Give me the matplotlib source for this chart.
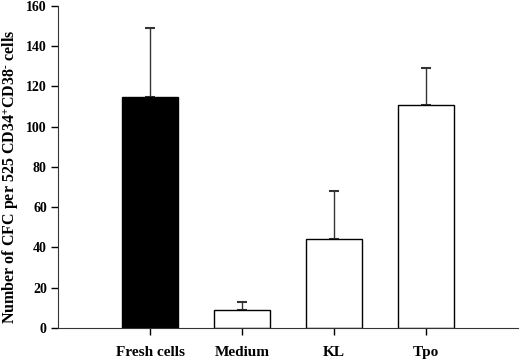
import matplotlib
matplotlib.use("Agg")
import matplotlib.pyplot as plt

categories = ["Fresh cells", "Medium", "KL", "Tpo"]
values = [115, 9, 44, 111]
errors = [34, 4, 24, 18]
colors = ["black", "white", "white", "white"]
yticks = [0, 20, 40, 60, 80, 100, 120, 140, 160]

plt.rcParams["font.family"] = "Liberation Serif"
plt.rcParams["font.weight"] = "bold"
plt.rcParams["mathtext.fontset"] = "custom"
plt.rcParams["mathtext.rm"] = "Liberation Serif:bold"
plt.rcParams["mathtext.bf"] = "Liberation Serif:bold"
plt.rcParams["mathtext.it"] = "Liberation Serif:bold"

fig = plt.figure(figsize=(5.2, 3.59), dpi=100)
ax = fig.add_axes([0.1115, 0.0864, 0.885, 0.897])

x = list(range(len(categories)))
ax.bar(x, values, width=0.61, color=colors, edgecolor="black", linewidth=1.0, zorder=2)
ax.errorbar(x, values, yerr=[[0] * len(errors), errors], fmt="none",
            ecolor="#333333", elinewidth=1.0, capsize=3.6, capthick=1.5, zorder=1)

ax.set_xlim(-1, 4)
ax.set_ylim(0, 160)
ax.set_yticks(yticks)
ax.set_xticks(x)
ax.set_xticklabels(categories, fontsize=11, fontweight="bold")
ax.tick_params(axis="y", labelsize=10, direction="out", length=5, width=1, pad=3)
ax.tick_params(axis="x", direction="out", length=5, width=1, pad=8)
for lbl in ax.get_yticklabels():
    lbl.set_fontweight("bold")
ax.spines["top"].set_visible(False)
ax.spines["right"].set_visible(False)
ax.spines["left"].set_color("#333333")
ax.spines["bottom"].set_color("#333333")
ax.set_ylabel(r"Number of CFC per 525 CD34$^{+}$CD38$^{\text{-}}$ cells",
              fontsize=11.5, fontweight="bold")
ax.yaxis.set_label_coords(-0.08, 0.47)

fig.savefig("out.png", dpi=100)
